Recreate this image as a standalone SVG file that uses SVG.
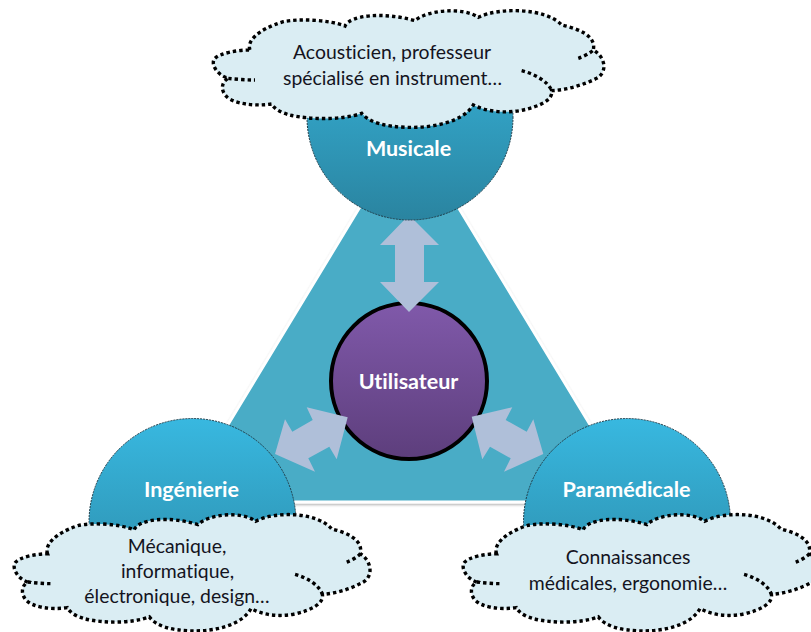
<svg xmlns="http://www.w3.org/2000/svg" xmlns:xlink="http://www.w3.org/1999/xlink" width="811" height="632" viewBox="0 0 811 632">
<style>
.ball{stroke:#1f3d4a;stroke-width:1;stroke-dasharray:2 1}
.arrow{fill:#afbfd9}
.title{font-family:Lato,"Open Sans",sans-serif;font-weight:700;font-size:21.5px;fill:#fff;text-anchor:middle;font-variant-ligatures:none}
.body{font-family:Lato,"Open Sans",sans-serif;font-size:19.4px;fill:#14141e;text-anchor:middle;font-variant-ligatures:none}
.cf{fill:#daedf3;stroke:#000;stroke-width:3.4;stroke-dasharray:3.4 3;vector-effect:non-scaling-stroke}
.cl{fill:none;stroke:#000;stroke-width:3.4;stroke-dasharray:3.4 3;vector-effect:non-scaling-stroke}
</style>
<defs>
<linearGradient id="gb" x1="0" y1="0" x2="0" y2="1"><stop offset="0" stop-color="#38b8e0"/><stop offset="1" stop-color="#2a84a0"/></linearGradient>
<linearGradient id="gp" x1="0" y1="0" x2="0" y2="1"><stop offset="0" stop-color="#8059aa"/><stop offset="1" stop-color="#5d3e7c"/></linearGradient>
<filter id="sh" x="-5%" y="-5%" width="110%" height="110%"><feDropShadow dx="0" dy="1.5" stdDeviation="1.2" flood-color="#000" flood-opacity=".3"/></filter>
<clipPath id="clipTop"><rect x="290" y="70" width="240" height="160"/></clipPath>
<clipPath id="clipBottom"><rect x="60" y="410" width="700" height="140"/></clipPath>
<path id="cloud" class="cf" d="M150,150C140,125 170,90 250,65C300,55 390,60 435,78C450,45 550,35 645,62C680,30 790,20 835,52C900,20 1040,25 1085,75C1130,85 1190,105 1180,150C1215,170 1225,215 1190,235C1150,255 1100,270 1055,272C1060,300 1020,320 960,332C910,340 860,335 820,315C790,365 700,385 620,382C560,380 510,370 485,340C430,360 330,360 270,345C250,340 225,330 215,312C160,320 100,310 80,290C60,270 65,245 85,235C50,225 30,190 45,175C60,160 110,150 150,150Z"/>
<path id="cloudin" class="cl" d="M85,235C110,238 140,240 165,240M965,212C1005,222 1045,245 1055,272M1135,175C1150,170 1170,160 1180,150"/>
</defs>
<g id="background"><path d="M409,126L637,502H181Z" fill="#4aacc6" stroke="#fff" stroke-width="3" filter="url(#sh)"/></g>
<g id="node-utilisateur">
<circle cx="409" cy="381" r="78" fill="url(#gp)" stroke="#000" stroke-width="4"/>
<text class="title" x="408.500" y="389">Utilisateur</text>
</g>
<g id="connectors">
<path class="arrow" d="M409,215L439,245H424V282H439L409,312L380,282H395V245H380Z"/>
<path class="arrow" d="M347.700,417.300L336.700,459.300L329.300,446.700L308.300,458.300L315,471.700L275,454L285,419.300L292.300,431.700L312.700,420L306.700,407.300Z"/>
<path class="arrow" d="M471.700,416.700L512.300,407.300L505.700,420L526.700,431.700L533.300,419.300L543.300,454L504,471.700L510.700,458.300L490,446.700L482.300,459.300Z"/>
</g>
<g id="node-musicale">
<circle class="ball" cx="410" cy="117" r="103" fill="url(#gb)" clip-path="url(#clipTop)"/>
<text class="title" x="408.500" y="155.500">Musicale</text>
</g>
<g id="node-ingenierie">
<circle class="ball" cx="192.500" cy="522" r="103.500" fill="url(#gb)" clip-path="url(#clipBottom)"/>
<text class="title" x="191.500" y="496.500">Ingénierie</text>
</g>
<g id="node-paramedicale">
<circle class="ball" cx="627" cy="522" r="103.500" fill="url(#gb)" clip-path="url(#clipBottom)"/>
<text class="title" x="626.500" y="496.500">Paramédicale</text>
</g>
<g id="cloud-musicale">
<g transform="translate(200,0) scale(.3333)"><use xlink:href="#cloud" href="#cloud"/><use xlink:href="#cloudin" href="#cloudin"/></g>
<text class="body" x="392" y="58.500">Acousticien, professeur</text>
<text class="body" x="392.500" y="84.500">spécialisé en instrument…</text>
</g>
<g id="cloud-ingenierie">
<g transform="translate(2,504) scale(.3037,.332)"><use xlink:href="#cloud" href="#cloud"/><use xlink:href="#cloudin" href="#cloudin"/></g>
<text class="body" x="177" y="552.500">Mécanique,</text>
<text class="body" x="177.500" y="577.500">informatique,</text>
<text class="body" x="177" y="602.500">électronique, design…</text>
</g>
<g id="cloud-paramedicale">
<g transform="translate(451,504) scale(.3037,.332)"><use xlink:href="#cloud" href="#cloud"/><use xlink:href="#cloudin" href="#cloudin"/></g>
<text class="body" x="628" y="563.500">Connaissances</text>
<text class="body" x="628" y="589.500">médicales, ergonomie…</text>
</g>
</svg>
